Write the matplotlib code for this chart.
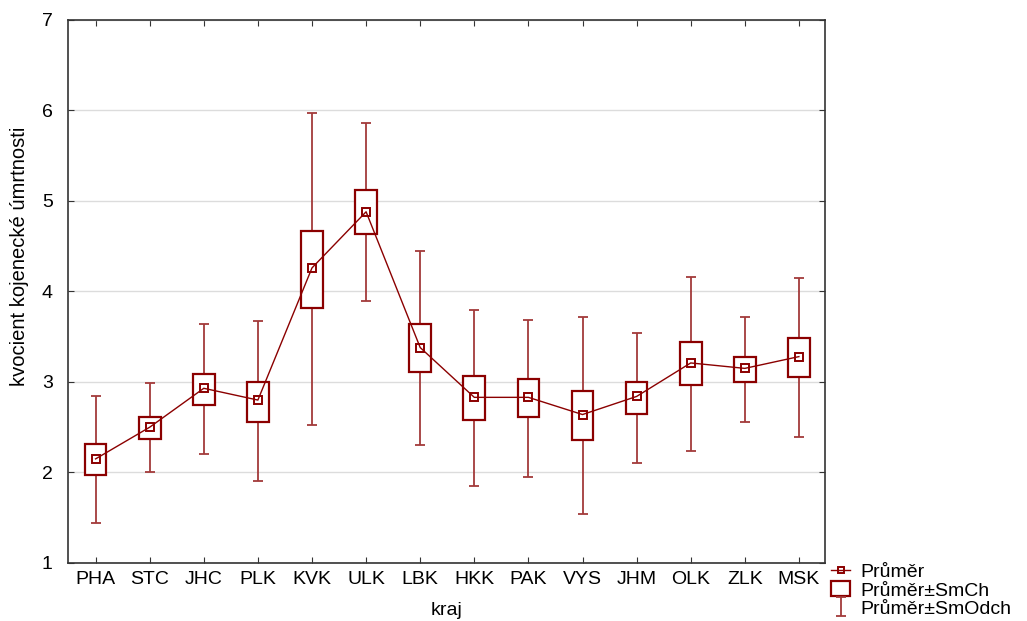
import matplotlib
matplotlib.use("Agg")
import matplotlib.pyplot as plt
from matplotlib.lines import Line2D
import numpy as np

plt.rcParams["font.family"] = ["Liberation Sans", "DejaVu Sans"]

# kraje
regions = ["PHA", "STC", "JHC", "PLK", "KVK", "ULK", "LBK",
           "HKK", "PAK", "VYS", "JHM", "OLK", "ZLK", "MSK"]
# průměr
means = [2.15, 2.50, 2.93, 2.80, 4.26, 4.88, 3.38,
         2.83, 2.83, 2.64, 2.84, 3.21, 3.15, 3.28]
# průměr ± směrodatná chyba
se_low = [1.97, 2.37, 2.74, 2.56, 3.82, 4.63, 3.11,
          2.58, 2.61, 2.36, 2.65, 2.97, 3.00, 3.05]
se_high = [2.31, 2.61, 3.09, 3.00, 4.67, 5.12, 3.64,
           3.07, 3.03, 2.90, 3.00, 3.44, 3.28, 3.49]
# průměr ± směrodatná odchylka
sd_low = [1.44, 2.00, 2.20, 1.91, 2.53, 3.89, 2.30,
          1.85, 1.955, 1.54, 2.11, 2.24, 2.56, 2.39]
sd_high = [2.84, 2.985, 3.64, 3.67, 5.97, 5.86, 4.45,
           3.79, 3.68, 3.72, 3.54, 4.16, 3.72, 4.15]

DARK = "#8b0000"
WHISK = "#a33a3a"

fig = plt.figure(figsize=(10.27, 6.21), dpi=100)
ax = fig.add_axes([0.0662, 0.0934, 0.737, 0.8746])

x = np.arange(len(regions))
m = np.array(means)
yerr = [m - np.array(sd_low), np.array(sd_high) - m]

eb = ax.errorbar(x, m, yerr=yerr, fmt="none", ecolor=WHISK, elinewidth=1.3,
                 capsize=3.6, capthick=1.3, zorder=2)
bars = ax.bar(x, np.array(se_high) - np.array(se_low), bottom=se_low, width=0.4,
              facecolor="white", edgecolor=DARK, linewidth=1.6, zorder=3)
ax.plot(x, means, color=DARK, lw=1.0, marker="s", markersize=6,
        mfc="none", mec=DARK, mew=1.4, zorder=4)

ax.set_xlim(-0.51, 13.48)
ax.set_ylim(1, 7)
ax.set_yticks(range(1, 8))
ax.set_xticks(x)
ax.set_xticklabels(regions)
ax.grid(axis="y", color="#dcdcdc", lw=1.0, zorder=0)
ax.set_axisbelow(True)
ax.tick_params(direction="in", top=True, right=True, length=4, labelsize=14,
               colors="#333333", labelcolor="black")
ax.tick_params(axis="x", pad=6)
ax.tick_params(axis="y", pad=11)
for sp in ax.spines.values():
    sp.set_color("#333333")
    sp.set_linewidth(1.2)

ax.set_xlabel("kraj", fontsize=14, labelpad=10)
ax.set_ylabel("kvocient kojenecké úmrtnosti", fontsize=14.5)
ax.yaxis.set_label_coords(-0.052, 0.565)

mean_handle = Line2D([], [], color=DARK, lw=1.0, marker="s", markersize=5,
                     mfc="none", mec=DARK, mew=1.4)
fig.legend([mean_handle, bars, eb], ["Průměr", "Průměr±SmCh", "Průměr±SmOdch"],
           loc="upper left", bbox_to_anchor=(0.809, 0.093), frameon=False,
           fontsize=14, handlelength=1.0, handletextpad=0.5, handleheight=0.8,
           labelspacing=0.0, borderpad=0, borderaxespad=0)

fig.savefig("out.png", dpi=100, facecolor="white")
